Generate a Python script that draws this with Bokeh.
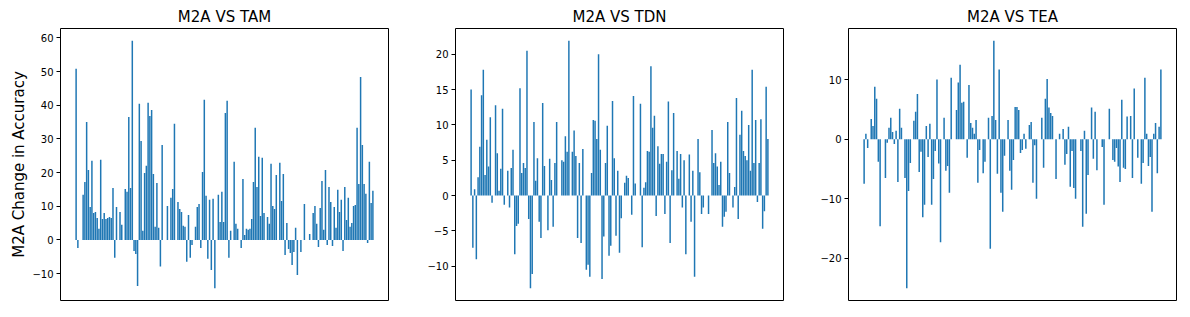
from bokeh.plotting import figure
from bokeh.layouts import row
from bokeh.models import FixedTicker, Range1d
from bokeh.embed import file_html
from bokeh.resources import INLINE

# ---- data ----
tam = [50.8, -2.4, 0, 0, 13.4, 17.2, 35.0, 20.8, 9.8, 23.5, 8.0, 8.3, 6.5, 3.3, 23.8, 6.2, 8.0, 6.2, 6.5, 6.8,
       6.5, 15.4, -5.3, 9.8, 0, 8.3, 4.5, 0, 15.1, 14.3, 36.5, 15.4, 59.1, -3.3, -4.2, -13.7, 40.4, 29.4, 2.7,
       19.9, 22.0, 40.7, 36.8, 38.6, 19.6, 3.9, 16.9, 3.6, -7.9, 28.2, 0, 0, 10.1, 0, 12.5, 15.1, 34.5, 0, 11.3,
       9.2, 8.3, 4.2, 3.9, -6.5, 7.4, -5.3, -1.5, 0, 3.9, 9.8, 10.7, -2.4, 20.2, 41.6, 13.1, -5.6, 11.9, -8.9,
       12.2, -14.3, 0, 13.4, 5.3, 14.3, 5.3, 37.7, 41.3,
       -5.3, 2.7, 0, 23.2, 4.8, 3.3, 0, -2.4, 18.1, 1.5, 3.3, 3.0, 3.3, 6.2, 17.2, 33.3, 15.7, 24.7, 7.1, 24.4,
       8.0, 0, 6.8, 4.8, 22.6, 10.1, 9.2, 19.3, 0, 22.9, 11.6, 19.6, -4.5, 5.0, -2.7, -3.9, -7.4, -3.6, 3.6,
       -10.4, 0, -3.6, 0, 10.7, 0, 0, 1.8,
       0, 8.0, 10.1, 4.8, -2.1, 9.5, 17.5, 3.0, 20.8, -1.5, 15.7, 11.3, -1.8, 9.8, 3.6, 14.9, 8.3, 11.9, -3.3,
       15.7, 5.9, 12.5, 3.9, 5.0, 10.1, 10.4, 33.3, 16.6, 48.4, 28.2, 16.6, 13.7, -0.9, 23.2, 11.0, 14.6]

tdn = [15.0, -7.4, 0.9, -9.0, 2.6, 6.9, 14.2, 17.8, 2.9, 7.9, 4.1, 11.1, -1.0, 0, 12.8, 6.0, 0.7, 3.8, 12.3, -1.3,
       0, 3.5, -1.7, 3.9, 6.5, -8.3, -4.3, -4.0, 15.2, 3.2, 4.6, 3.9, 20.5, -3.3, -13.1, -11.1, 10.4, 2.1, 5.3, -3.7,
       -6.0, 13.1, 4.2, 0, -4.9, 5.2, 2.2, -4.4, 4.6, 10.4, 0, 0, 5.0, 4.8, 8.4, 6.2, 21.9, 0, 6.2, 9.2,
       5.6, -6.0, 4.6, -6.7, 6.6, 0, -10.5, -9.8, -11.5, 3.2, 10.7, 10.6, 8.0, 20.0, 6.5, -11.8, -5.8, 4.6, 9.9,
       -8.5, -7.1, 13.4, 5.3, -5.7, 3.5, -8.1, -3.2, 0,
       1.8, 2.8, 2.5, 0, -2.7, 14.1, 1.7, 0, 0, 13.0, -7.3, 1.1, 1.9, 6.3, 6.2, 18.3, 9.6, 11.3, -2.9, 7.0,
       4.5, 5.9, 5.9, -2.6, 4.8, 13.3, -6.7, 3.6, 11.7, 0, 6.3, 2.4, 5.9, -1.7, 5.0, -8.3, 0, 5.8, -3.7, 3.5,
       -11.5, 0, 8.0, 3.3, -2.6, -1.7,
       0, 0, -2.6, 0, 9.3, 4.6, 6.0, 4.1, 1.5, 4.8, -4.4, -3.0, -2.3, 10.4, 3.2, 0, -1.7, 1.2, 13.8, -3.3,
       8.6, 12.0, 6.3, 5.6, 5.0, 10.0, 3.5, 17.8, 4.6, 10.7, -0.9, 4.6, 10.8, -4.7, -2.2, 15.4, 8.0]

tea = [-7.5, 0.9, -1.5, 0, 3.4, 2.2, 8.8, 6.8, -3.8, -14.6, 0, 0, -6.5, -0.6, 1.9, 3.6, 1.2, -0.8, 1.4, -7.2,
       5.1, 1.9, 0, -6.5, -25.0, -8.7, -4.0, 0, 3.1, 4.6, 7.6, -5.5, -2.1, -13.1, -11.0, 2.2, -3.0, 2.6, -11.0,
       -6.7, -2.0, 10.0, -4.1, -17.3, 0, 3.6, -5.3, -4.5, -9.0, 10.3, 0, 0, 4.9, 9.5, 12.5, 6.1, 6.3, 0, -3.1,
       9.1, 2.7, 1.9, 0.9, 3.2, -7.3, -1.8, 0, -5.7, -3.8, 0, 3.6, -18.4, 3.9, 16.5, 3.2, -5.8, 11.7, -9.0,
       -12.2, -2.8, 0, 3.2, -5.3, -8.5, -3.5, 5.4,
       5.4, 4.9, -2.3, -1.8, 0.9, -1.6, 0, 2.4, 2.9, -7.3, -1.0, -10.0, 0, 0, 3.6, -4.8, 6.8, 10.1, 5.3, 4.4,
       3.9, 0, -6.7, 0, 0.9, 0, 1.7, -4.3, -2.5, 2.1, -8.0, -2.0, -8.2, -10.0, 0, 0, -2.0, -14.7, 1.4, -12.5,
       -6.0, 0, 5.3, -3.3, 4.6, -5.2,
       0, 0, -1.3, -11.0, 0, 0, 5.1, 0, -3.5, -3.8, -1.5, -4.6, -7.2, 6.6, -4.8, -5.0, 3.8, 0, 3.9, -6.5,
       8.5, 0, -3.1, 0, -7.5, -4.0, 10.3, 0.9, -4.5, -3.0, -12.2, 0.9, 2.7, -5.7, 2.1, 11.7]

titles = ["M2A VS TAM", "M2A VS TDN", "M2A VS TEA"]
ticks_tam = [-10, 0, 10, 20, 30, 40, 50, 60]
ticks_tdn = [-10, -5, 0, 5, 10, 15, 20]
ticks_tea = [-20, -10, 0, 10]
y_label = "M2A Change in Accuracy"

FONT = "DejaVu Sans"
BAR = "#1f77b4"


def make_panel(vals, title, ticks, left, right, ylabel=None):
    n = len(vals)
    xs = list(range(n))
    pad_x = 0.05 * (n - 0.2)
    lo, hi = min(vals), max(vals)
    pad_y = 0.05 * (hi - lo)
    p = figure(frame_width=328, frame_height=272, output_backend="svg", toolbar_location=None, tools="",
               x_range=Range1d(-0.4 - pad_x, n - 0.6 + pad_x),
               y_range=Range1d(lo - pad_y, hi + pad_y),
               min_border_left=left, min_border_right=right, min_border_top=28, min_border_bottom=1)
    p.vbar(x=xs, top=vals, bottom=0, width=0.85, fill_color=BAR, line_color=None)
    p.xaxis.visible = False
    p.grid.visible = False
    p.outline_line_color = "black"
    p.outline_line_width = 1
    p.outline_line_alpha = 1.0
    ax = p.yaxis[0]
    ax.ticker = FixedTicker(ticks=ticks)
    ax.major_label_overrides = {t: str(t).replace("-", "\u2212") for t in ticks}
    ax.major_label_text_font = FONT
    ax.major_label_text_font_size = "10px"
    ax.major_label_text_color = "black"
    ax.major_tick_out = 4
    ax.major_tick_in = 0
    ax.major_tick_line_color = "black"
    ax.minor_tick_line_color = None
    ax.axis_line_color = None
    ax.major_label_standoff = 3
    if ylabel:
        ax.axis_label = ylabel
        ax.axis_label_text_font = FONT
        ax.axis_label_text_font_size = "15px"
        ax.axis_label_text_font_style = "normal"
        ax.axis_label_text_color = "black"
        ax.axis_label_standoff = 1
    p.title.text = title
    p.title.text_font = FONT
    p.title.text_font_size = "15px"
    p.title.text_font_style = "normal"
    p.title.text_color = "black"
    p.title.align = "center"
    p.title.standoff = 6
    p.background_fill_color = "white"
    p.border_fill_color = "white"
    return p


p1 = make_panel(tam, titles[0], ticks_tam, 60, 20, y_label)
p2 = make_panel(tdn, titles[1], ticks_tdn, 47, 20)
p3 = make_panel(tea, titles[2], ticks_tea, 45, 6)

layout = row(p1, p2, p3)
open("out.html", "w").write(file_html(layout, INLINE))
